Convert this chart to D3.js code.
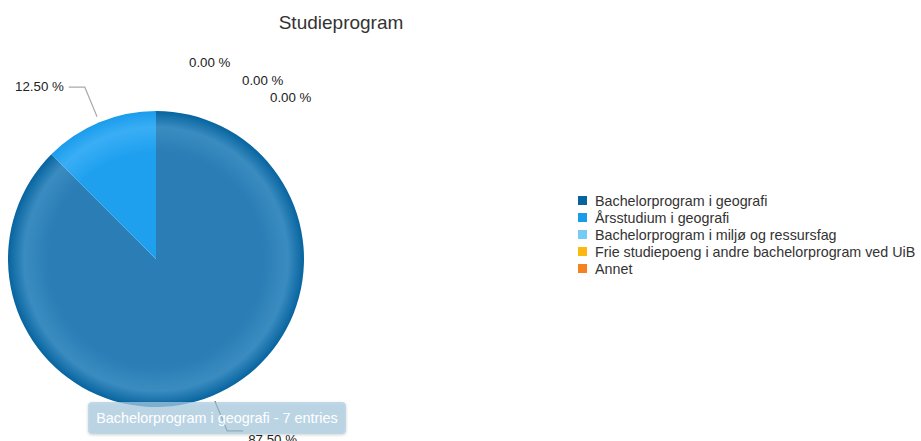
<!DOCTYPE html>
<meta charset="utf-8">
<script src="https://d3js.org/d3.v7.min.js"></script>
<style>
body { margin: 0; background: #fff; font-family: "Liberation Sans", Arial, sans-serif; }
</style>
<body>
<div id="chart"></div>
<script>
// data
var categories = ["Bachelorprogram i geografi", "Årsstudium i geografi", "Bachelorprogram i miljø og ressursfag",
                  "Frie studiepoeng i andre bachelorprogram ved UiB", "Annet"];
var entries = [7, 1, 0, 0, 0];
var colors = ["#07649f", "#1a9cec", "#74cbf4", "#fdb912", "#f5821f"];
var lightColors = ["#3a8cc0", "#3aaef5", "#9bdaf8", "#fdd060", "#f8a560"];
var baseColors = ["#2a7db5", "#1ea0ef", "#7fd0f6", "#fdbe20", "#f68a2c"];

var W = 921, H = 441;
var svg = d3.select("#chart").append("svg").attr("width", W).attr("height", H);

svg.append("text").attr("x", 341).attr("y", 29).attr("text-anchor", "middle")
  .attr("font-size", 19).attr("fill", "#333").text("Studieprogram");

var cx = 156, cy = 259, r = 148;
var total = d3.sum(entries);

var defs = svg.append("defs");
categories.forEach(function(c, i) {
  var gr = defs.append("radialGradient").attr("id", "grad" + i)
    .attr("gradientUnits", "userSpaceOnUse").attr("cx", 0).attr("cy", 0).attr("r", r);
  gr.append("stop").attr("offset", "0%").attr("stop-color", baseColors[i]);
  gr.append("stop").attr("offset", "72%").attr("stop-color", baseColors[i]);
  gr.append("stop").attr("offset", "89%").attr("stop-color", lightColors[i]);
  gr.append("stop").attr("offset", "100%").attr("stop-color", colors[i]);
});
var sh = defs.append("filter").attr("id", "shadow").attr("x", "-10%").attr("y", "-30%").attr("width", "120%").attr("height", "170%");
sh.append("feDropShadow").attr("dx", 0).attr("dy", 1).attr("stdDeviation", 1.5).attr("flood-color", "#000").attr("flood-opacity", 0.25);

var pie = d3.pie().sort(null).value(function(d) { return d; });
var arcs = pie(entries);
var arc = d3.arc().innerRadius(0).outerRadius(r);

var g = svg.append("g").attr("transform", "translate(" + cx + "," + cy + ")");
g.selectAll("path").data(arcs).enter().append("path")
  .attr("d", arc)
  .attr("fill", function(d, i) { return "url(#grad" + i + ")"; });

// labels
var fmt = function(v) { return (v / total * 100).toFixed(2) + " %"; };
var zeroIdx = 0;
arcs.forEach(function(d, i) {
  var a = (d.startAngle + d.endAngle) / 2;
  var sx = Math.sin(a), sy = -Math.cos(a);
  if (d.value > 0) {
    var p0 = [sx * (r + 6), sy * (r + 6)];
    var p1 = [sx * (r + 38), sy * (r + 38)];
    var dir = sx >= 0 ? 1 : -1;
    var p2 = [p1[0] + dir * 16, p1[1]];
    g.append("polyline").attr("points", [p0, p1, p2].map(function(p) { return p.join(","); }).join(" "))
      .attr("fill", "none").attr("stroke", dir > 0 ? "#555" : "#aaa").attr("stroke-width", 1.2);
    g.append("text").attr("x", p2[0] + dir * 5).attr("y", p2[1] + 4 + Math.max(0, sy) * 10)
      .attr("text-anchor", dir > 0 ? "start" : "end")
      .attr("font-size", 13.3).attr("fill", "#222").text(fmt(d.value));
  } else {
    // zero slices stacked at the top, shifted to avoid overlap
    var lx = sx * (r + 44) + 33 + zeroIdx * 53 - zeroIdx * (zeroIdx - 1) * 12.5;
    var ly = sy * (r + 44) + zeroIdx * 17.5;
    g.append("text").attr("x", lx).attr("y", ly)
      .attr("font-size", 13.3).attr("fill", "#222").text(fmt(d.value));
    zeroIdx++;
  }
});

// tooltip
var tip = svg.append("g").attr("transform", "translate(88,402)");
tip.append("rect").attr("width", 258).attr("height", 32).attr("rx", 4)
  .attr("fill", "#a9cde3").attr("fill-opacity", 0.7).attr("filter", "url(#shadow)");
tip.append("text").attr("x", 129).attr("y", 21).attr("text-anchor", "middle")
  .attr("font-size", 14.4).attr("fill", "#fff")
  .text(categories[0] + " - " + entries[0] + " entries");

// legend
var leg = svg.append("g").attr("transform", "translate(578,196)");
var row = leg.selectAll("g").data(categories).enter().append("g")
  .attr("transform", function(d, i) { return "translate(0," + i * 17 + ")"; });
row.append("rect").attr("width", 9).attr("height", 9).attr("fill", function(d, i) { return colors[i]; });
row.append("text").attr("x", 17).attr("y", 9.5).attr("font-size", 14.3).attr("fill", "#333")
  .text(function(d) { return d; });
</script>
</body>
